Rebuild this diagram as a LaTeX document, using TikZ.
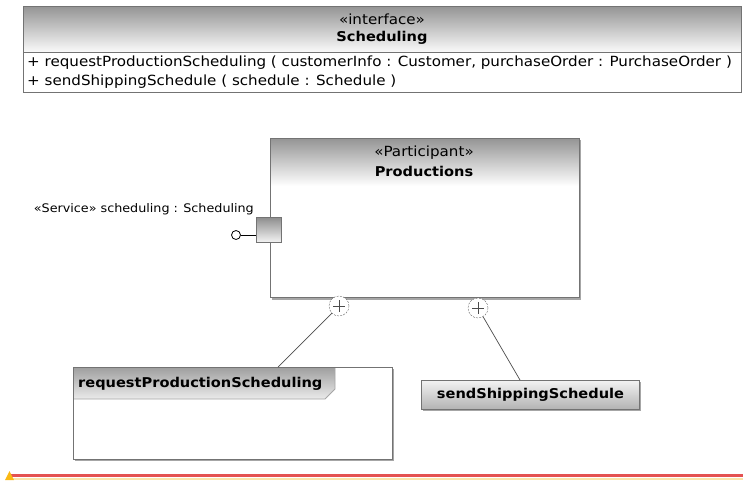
\documentclass[tikz,border=0pt]{standalone}
\usepackage{fontspec}
\setmainfont{DejaVu Sans}[FakeStretch=1.08]
\usetikzlibrary{calc}
\begin{document}
\begin{tikzpicture}[x=1pt,y=-1pt, font=\fontsize{14}{16}\selectfont,
  bord/.style={draw=black!55, line width=1pt},
  shadowbox/.style={fill=black!35, draw=none},
  plusc/.style={circle, draw=black!60, dash pattern=on 2pt off 1.2pt, fill=white, minimum size=20pt, inner sep=0pt},
  conn/.style={draw=black!70, line width=0.7pt},
  lbl/.style={inner sep=0pt},
  boldlbl/.style={inner sep=0pt, font=\fontsize{13.5}{16}\selectfont\bfseries}]
\useasboundingbox (0,0) rectangle (743,480);
% interface
\draw[bord, top color=black!42, bottom color=black!2] (23,6) rectangle (741,52);
\draw[bord, fill=white] (23,52) rectangle (741,92);
\node[lbl] (ist) at (382,19) {«interface»};
\node[boldlbl] (iname) at (382,38) {Scheduling};
\node[lbl, anchor=west] (op1) at (27,63) {+ requestProductionScheduling ( customerInfo : Customer, purchaseOrder : PurchaseOrder )};
\node[lbl, anchor=west] (op2) at (27,82) {+ sendShippingSchedule ( schedule : Schedule )};
% Productions participant
\fill[shadowbox] (272,140) rectangle (581,300);
\node[draw=none, fill=white, minimum width=309pt, minimum height=159pt, anchor=north west, inner sep=0pt] (prod) at (270,138) {};
\shade[top color=black!42, bottom color=white] (270,138) rectangle (579,186);
\draw[bord] (prod.north west) rectangle (prod.south east);
\node[lbl] (pst) at (424,153) {«Participant»};
\node[boldlbl] (pname) at (424,171) {Productions};
% port and lollipop
\node[bord, top color=black!45, bottom color=black!5, minimum size=25pt, inner sep=0pt] (port) at (268.5,229.5) {};
\node[circle, draw=black, line width=0.8pt, fill=white, minimum size=9pt, inner sep=0pt] (lol) at (236,235) {};
\draw[black, line width=1pt] (lol.east) -- (lol.east -| port.west);
\node[lbl, anchor=east, font=\fontsize{11.8}{14}\selectfont] (svc) at (254,209) {«Service» scheduling : Scheduling};
% request box
\fill[shadowbox] (75,369) rectangle (394,461);
\node[fill=white, minimum width=319pt, minimum height=92pt, anchor=north west, inner sep=0pt] (rps) at (73,367) {};
\shade[top color=black!38, bottom color=black!8] (73,367) -- (335,367) -- (335,389) -- (325,399) -- (73,399) -- cycle;
\draw[black!35, line width=0.8pt] (335,367) -- (335,389) -- (325,399) -- (73,399);
\draw[bord] (rps.north west) rectangle (rps.south east);
\node[boldlbl, anchor=west] (rpst) at (78,384) {requestProductionScheduling};
% send box
\fill[shadowbox] (423,382) rectangle (641,411);
\node[bord, top color=black!5, bottom color=black!30, minimum width=218pt, minimum height=29pt, anchor=north west, inner sep=0pt] (sss) at (421,380) {};
\node[boldlbl] (ssst) at (sss.center) {sendShippingSchedule};
% plus circles
\node[plusc] (p1) at (339,306) {};
\node[plusc] (p2) at (478,308) {};
\draw[black!70, line width=0.8pt] ($(p1)+(-6,0)$) -- ($(p1)+(6,0)$) ($(p1)+(0,-6)$) -- ($(p1)+(0,6)$);
\draw[black!70, line width=0.8pt] ($(p2)+(-6,0)$) -- ($(p2)+(6,0)$) ($(p2)+(0,-6)$) -- ($(p2)+(0,6)$);
\coordinate (e1) at (278,367);
\coordinate (e2) at (520,380);
\draw[conn] (p1) -- (e1);
\draw[conn] (p2) -- (e2);
% bottom marker line
\draw[line width=3pt, color={rgb,255:red,228;green,82;blue,82}] (10,475) -- (743,475);
\draw[line width=1.2pt, color={rgb,255:red,250;green,228;blue,170}] (10,479) -- (743,479);
\fill[color={rgb,255:red,250;green,185;blue,20}] (5,480) -- (9.5,471) -- (14,480) -- cycle;
\end{tikzpicture}
\end{document}
